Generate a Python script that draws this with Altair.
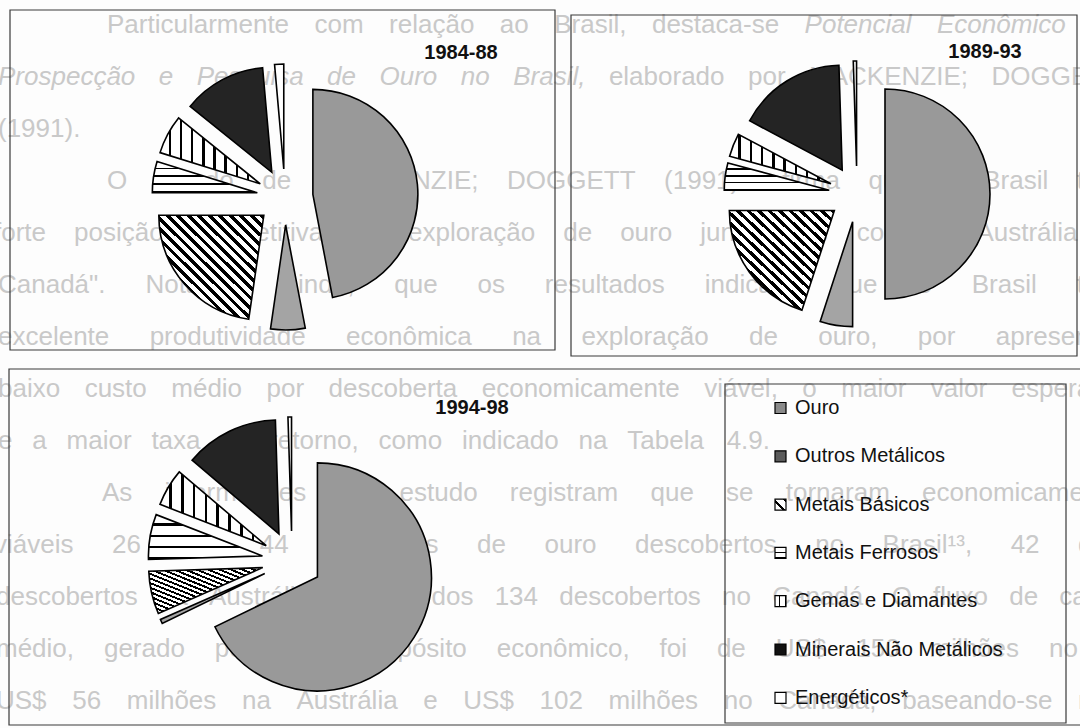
import unicodedata

import altair as alt
import pandas as pd

# ---------------------------------------------------------------- data
CATEGORIES = ["Ouro", "Outros Metálicos", "Metais Básicos", "Metais Ferrosos",
              "Gemas e Diamantes", "Minerais Não Metálicos", "Energéticos*"]
PERIODS = ["1984-88", "1989-93", "1994-98"]
SHARE_1984_88 = [47.0, 5.3, 22.7, 4.8, 6.0, 12.8, 1.4]
SHARE_1989_93 = [50.0, 5.0, 20.0, 4.2, 3.6, 16.7, 0.5]
SHARE_1994_98 = [67.8, 0.6, 6.1, 6.4, 5.3, 13.3, 0.5]
SHARES = [SHARE_1984_88, SHARE_1989_93, SHARE_1994_98]

# page text printed behind the figures
BG_LINES = [
    "Particularmente com relação ao Brasil, destaca-se Potencial Econômico da",
    "Prospecção e Pesquisa de Ouro no Brasil, elaborado por MACKENZIE; DOGGETT",
    "(1991).",
    "O estudo de MACKENZIE; DOGGETT (1991) afirma que o Brasil tem",
    "forte posição competitiva na exploração de ouro juntamente com a Austrália e",
    "Canadá\". Nota-se, ainda, que os resultados indicam que o Brasil tem",
    "excelente produtividade econômica na exploração de ouro, por apresentar",
    "baixo custo médio por descoberta economicamente viável, o maior valor esperado",
    "e a maior taxa de retorno, como indicado na Tabela 4.9.",
    "As informações do estudo registram que se tornaram economicamente",
    "viáveis 26 dos 44 depósitos de ouro descobertos no Brasil¹³, 42 dos",
    "descobertos na Austrália e 104 dos 134 descobertos no Canadá. O fluxo de caixa",
    "médio, gerado por cada depósito econômico, foi de US$ 150 milhões no Brasil,",
    "US$ 56 milhões na Austrália e US$ 102 milhões no Canadá, baseando-se nos",
]
BG_ITALIC_WORDS = {0: {6, 7, 8}, 1: {0, 1, 2, 3, 4, 5, 6}}

# ---------------------------------------------------------------- layout
W, H = 1080, 728
PIE_CX = [285, 857, 292]
PIE_CY = [197, 194, 561]
PIE_R = [105, 105, 114]
PIE_EXPLODE = [28, 28, 30]
TITLE_X = [461, 985, 472]
TITLE_Y = [53, 52, 408]

FRAME_X = [10, 571, 9, 725]
FRAME_X2 = [555, 1077, 1095, 1066]
FRAME_Y = [10, 15, 369, 384]
FRAME_Y2 = [350, 356, 725, 723]

LEGEND_ICON_X = 775
LEGEND_TEXT_X = 795
LEGEND_Y0 = 408
LEGEND_DY = 48.3

# left and right ends of each page line (lines are justified between them)
BG_X0 = [107, -2, -2, 107, -6, -2, -2, -2, -2, 102, -6, -4, -4, -4]
BG_X1 = [1120, 1120, 100, 1120, 1120, 1120, 1120, 1120, 770, 1120, 1120, 1120, 1180, 1120]
BG_Y0 = 25
BG_DY = 52
BG_SIZE = 26

FONT = "Liberation Sans"

# advance widths of the sans face, per 1000 units of em
_W = dict(zip("abcdefghijklmnopqrstuvwxyz",
              [556, 556, 500, 556, 556, 278, 556, 556, 222, 222, 500, 222, 833,
               556, 556, 556, 556, 333, 500, 278, 556, 500, 722, 500, 500, 500]))
_W.update(zip("ABCDEFGHIJKLMNOPQRSTUVWXYZ",
              [667, 667, 722, 722, 667, 611, 778, 722, 278, 500, 667, 556, 833,
               722, 778, 667, 778, 722, 667, 611, 722, 667, 944, 667, 667, 611]))
_W.update({d: 556 for d in "0123456789"})
_W.update({" ": 278, ".": 278, ",": 278, ";": 278, ":": 278, "(": 333, ")": 333,
           "-": 333, "\"": 355, "$": 556, "¹": 333, "³": 333, "*": 389})


def text_width(s, size):
    units = 0
    for ch in s:
        base = unicodedata.normalize("NFD", ch)[0]
        units += _W.get(base, 556)
    return units * size / 1000


def stripes(n, dark, direction, light="white", ink="black"):
    """Hard-edged linear gradient that reads as a line hatch."""
    x1, y1, x2, y2 = {"h": (0, 0, 0, 1), "v": (0, 0, 1, 0), "d": (0, 1, 1, 0)}[direction]
    stops = []
    for k in range(n):
        a, b = k / n, (k + 1) / n
        m = b - dark / n
        stops += [alt.GradientStop(offset=a, color=light),
                  alt.GradientStop(offset=m, color=light),
                  alt.GradientStop(offset=m, color=ink),
                  alt.GradientStop(offset=b, color=ink)]
    return alt.LinearGradient(gradient="linear", stops=stops, x1=x1, y1=y1, x2=x2, y2=y2)


SLICE_FILL = [
    "#999999",
    "#a4a4a4",
    stripes(20, 0.45, "d"),
    stripes(4, 0.22, "h"),
    stripes(9, 0.22, "v"),
    "#242424",
    "white",
]
ICON_FILL = [
    "#8a8a8a",
    "#5a5a5a",
    stripes(2, 0.3, "d"),
    stripes(2, 0.25, "h"),
    stripes(2, 0.25, "v"),
    "#111111",
    "white",
]

# ---------------------------------------------------------------- tables
pie_rows = []
for p, period in enumerate(PERIODS):
    for i, cat in enumerate(CATEGORIES):
        pie_rows.append({"period": period, "category": cat, "order": i,
                         "value": SHARES[p][i], "cx": PIE_CX[p], "cy": PIE_CY[p],
                         "r": PIE_R[p], "d": PIE_EXPLODE[p]})
pie_df = pd.DataFrame(pie_rows)

title_df = pd.DataFrame({"label": PERIODS, "x": TITLE_X, "y": TITLE_Y})
legend_df = pd.DataFrame({"category": CATEGORIES, "idx": list(range(len(CATEGORIES)))})
frame_df = pd.DataFrame({"x": FRAME_X, "x2": FRAME_X2, "y": FRAME_Y, "y2": FRAME_Y2})

# justified page lines: each word placed on its own
word_rows = []
space = text_width(" ", BG_SIZE)
for li, line in enumerate(BG_LINES):
    words = line.split(" ")
    widths = [text_width(w, BG_SIZE) for w in words]
    gap = space
    if len(words) > 1:
        gap = max(space, (BG_X1[li] - BG_X0[li] - sum(widths)) / (len(words) - 1))
    x = BG_X0[li]
    for wi, (word, wpx) in enumerate(zip(words, widths)):
        word_rows.append({"x": x, "y": BG_Y0 + BG_DY * li, "w": word,
                          "it": wi in BG_ITALIC_WORDS.get(li, set())})
        x += wpx + gap
words_df = pd.DataFrame(word_rows)

px = lambda f: alt.X(f, type="quantitative", scale=None, axis=None)
py = lambda f: alt.Y(f, type="quantitative", scale=None, axis=None)

# ---------------------------------------------------------------- layers
layers = []

for flag, style in [(False, "normal"), (True, "italic")]:
    layers.append(
        alt.Chart(words_df[words_df["it"] == flag]).mark_text(
            align="left", baseline="middle", font=FONT, fontSize=BG_SIZE,
            fontStyle=style, color="#c9c9c9"
        ).encode(x=px("x"), y=py("y"), text="w:N")
    )

layers.append(
    alt.Chart(frame_df).mark_rect(fillOpacity=0, stroke="#3a3a3a", strokeWidth=1.2)
    .encode(x=px("x"), x2="x2:Q", y=py("y"), y2="y2:Q")
)

pie_base = (
    alt.Chart(pie_df)
    .transform_joinaggregate(total="sum(value)", groupby=["period"])
    .transform_window(cum="sum(value)", groupby=["period"],
                      sort=[alt.SortField("order")], frame=[None, 0])
    .transform_calculate(t0="2*PI*(datum.cum - datum.value)/datum.total")
    .transform_calculate(t1="2*PI*datum.cum/datum.total")
    .transform_calculate(mid="(datum.t0 + datum.t1)/2")
    .transform_calculate(px="datum.cx + datum.d*sin(datum.mid)")
    .transform_calculate(py="datum.cy - datum.d*cos(datum.mid)")
)

for i, cat in enumerate(CATEGORIES):
    layers.append(
        pie_base.transform_filter(alt.datum.category == cat)
        .mark_arc(fill=SLICE_FILL[i], stroke="black", strokeWidth=1.6, strokeJoin="miter")
        .encode(
            x=px("px"), y=py("py"),
            theta=alt.Theta("t0:Q", scale=None, stack=False),
            theta2=alt.Theta2("t1:Q"),
            radius=alt.Radius("r:Q", scale=None),
        )
    )

legend_base = alt.Chart(legend_df).transform_calculate(
    ly=f"{LEGEND_Y0} + {LEGEND_DY}*datum.idx"
).transform_calculate(
    ly0="datum.ly - 5.5", ly1="datum.ly + 5.5"
)

for i, cat in enumerate(CATEGORIES):
    layers.append(
        legend_base.transform_filter(alt.datum.category == cat)
        .mark_rect(fill=ICON_FILL[i], stroke="black", strokeWidth=1.2)
        .encode(x=alt.value(LEGEND_ICON_X), x2=alt.value(LEGEND_ICON_X + 11),
                y=py("ly0"), y2="ly1:Q")
    )

layers.append(
    legend_base.mark_text(align="left", baseline="middle", font=FONT, fontSize=20,
                          color="#111111")
    .encode(x=alt.value(LEGEND_TEXT_X), y=py("ly"), text="category:N")
)

layers.append(
    alt.Chart(title_df).mark_text(align="center", baseline="middle", font=FONT,
                                  fontSize=20, fontWeight="bold", color="#111111")
    .encode(x=px("x"), y=py("y"), text="label:N")
)

chart = (
    alt.layer(*layers)
    .properties(width=W, height=H, padding=0, background="#fdfdfd",
                autosize=alt.AutoSizeParams(type="none"))
    .configure_view(strokeWidth=0)
)

chart.save("out.html", embed_options={"renderer": "svg", "actions": False})
